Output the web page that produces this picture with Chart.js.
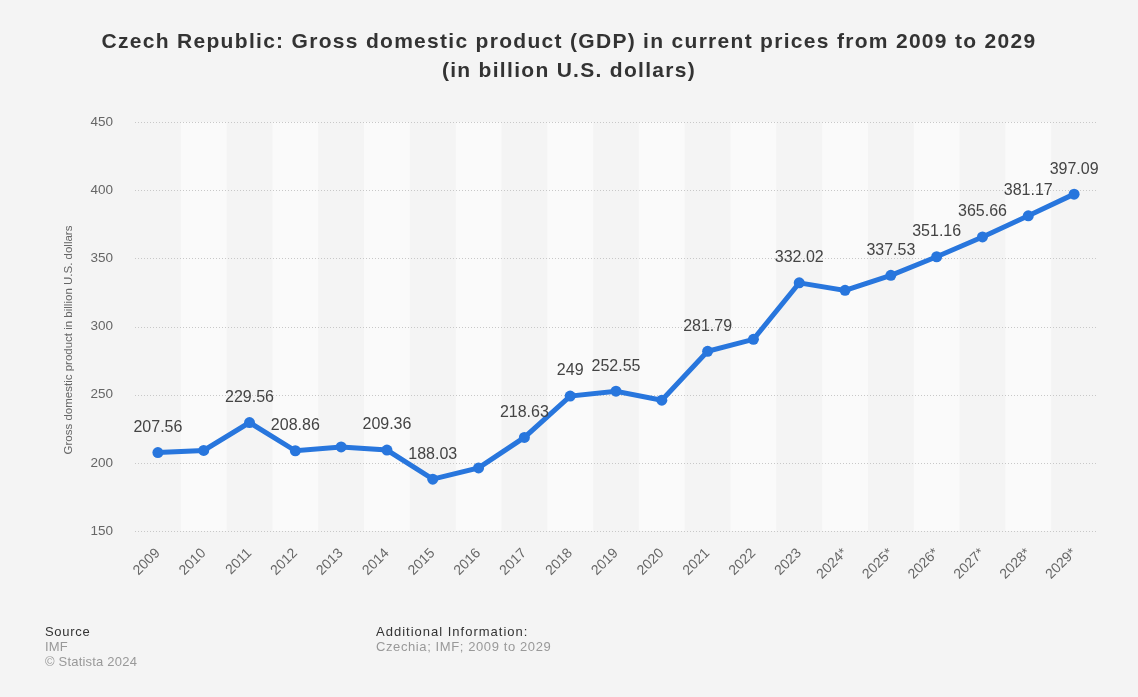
<!DOCTYPE html>
<html>
<head>
<meta charset="utf-8">
<script src="https://cdn.jsdelivr.net/npm/chart.js@4"></script>
<style>
    body { margin: 0; background: #f4f4f4; font-family: "Liberation Sans", Arial, sans-serif; }
    #wrap { position: relative; width: 1138px; height: 697px; overflow: hidden; }
    #gdpChart { position: absolute; left: 0; top: 0; }
    .title { position: absolute; left: 0; width: 1138px; text-align: center; font-weight: bold; font-size: 21px; letter-spacing: 1.3px; color: #333; }
    .foot { position: absolute; font-size: 13px; line-height: 15px; letter-spacing: 0.7px; }
    .foot b { font-weight: normal; color: #333; }
    .foot span { color: #999; }
</style>
</head>
<body>
<div id="wrap">
    <canvas id="gdpChart" width="1138" height="697"></canvas>
    <div class="title" style="top: 29px;">Czech Republic: Gross domestic product (GDP) in current prices from 2009 to 2029</div>
    <div class="title" style="top: 58px;">(in billion U.S. dollars)</div>
    <div class="foot" style="left: 45px; top: 624px;"><b>Source</b><br><span style="letter-spacing: 0.2px;">IMF</span><br><span style="letter-spacing: 0.2px;">© Statista 2024</span></div>
    <div class="foot" style="left: 376px; top: 624px;"><b style="letter-spacing: 1px;">Additional Information:</b><br><span style="letter-spacing: 0.6px;">Czechia; IMF; 2009 to 2029</span></div>
</div>
<script>
document.addEventListener('DOMContentLoaded', function() {
    const years = ['2009', '2010', '2011', '2012', '2013', '2014', '2015', '2016', '2017', '2018', '2019',
        '2020', '2021', '2022', '2023', '2024*', '2025*', '2026*', '2027*', '2028*', '2029*'];
    const gdp = [207.56, 209.07, 229.56, 208.86, 211.69, 209.36, 188.03, 196.29, 218.63, 249, 252.55,
        245.97, 281.79, 290.57, 332.02, 326.5, 337.53, 351.16, 365.66, 381.17, 397.09];
    // which points carry a value label in the original
    const labelled = [true, false, true, true, false, true, true, false, true, true, true,
        false, true, false, true, false, true, true, true, true, true];
    const yTicks = [150, 200, 250, 300, 350, 400, 450];
    const yTitle = 'Gross domestic product in billion U.S. dollars';

    const blue = '#2876dd';
    const fontFamily = '"Liberation Sans", Arial, sans-serif';

    // alternating column stripes behind the line
    const stripes = {
        id: 'stripes',
        beforeDatasetsDraw(chart) {
            const { ctx, chartArea, scales } = chart;
            const x = scales.x;
            const half = (x.getPixelForValue(1) - x.getPixelForValue(0)) / 2;
            ctx.save();
            ctx.fillStyle = '#fafafa';
            for (let i = 1; i < years.length; i += 2) {
                const c = x.getPixelForValue(i);
                ctx.fillRect(c - half, chartArea.top, half * 2, chartArea.bottom - chartArea.top);
            }
            // dotted grid over the stripes
            ctx.strokeStyle = '#c8c8c8';
            ctx.lineWidth = 1;
            ctx.setLineDash([1, 2]);
            yTicks.forEach(v => {
                const y = Math.round(scales.y.getPixelForValue(v)) + 0.5;
                ctx.beginPath();
                ctx.moveTo(chartArea.left, y);
                ctx.lineTo(chartArea.right, y);
                ctx.stroke();
            });
            ctx.setLineDash([]);

            // y axis title, sitting a little below the middle like the original
            ctx.font = '11.5px ' + fontFamily;
            ctx.fillStyle = '#666';
            ctx.textAlign = 'center';
            ctx.textBaseline = 'middle';
            ctx.translate(69, 340);
            ctx.rotate(-Math.PI / 2);
            ctx.fillText(yTitle, 0, 0);
            ctx.restore();
        }
    };

    const valueLabels = {
        id: 'valueLabels',
        afterDatasetsDraw(chart) {
            const { ctx } = chart;
            const meta = chart.getDatasetMeta(0);
            ctx.save();
            ctx.font = '16px ' + fontFamily;
            ctx.fillStyle = '#444';
            ctx.textAlign = 'center';
            ctx.textBaseline = 'middle';
            meta.data.forEach((pt, i) => {
                if (!labelled[i]) return;
                ctx.fillText(String(gdp[i]), pt.x, pt.y - 25);
            });
            ctx.restore();
        }
    };

    const ctx = document.getElementById('gdpChart').getContext('2d');
    new Chart(ctx, {
        type: 'line',
        data: {
            labels: years,
            datasets: [{
                data: gdp,
                borderColor: blue,
                backgroundColor: blue,
                borderWidth: 5,
                pointRadius: 5.5,
                pointHoverRadius: 5.5,
                pointBackgroundColor: blue,
                pointBorderWidth: 0,
                tension: 0
            }]
        },
        options: {
            responsive: false,
            animation: false,
            layout: { padding: { top: 122, right: 41, left: 0, bottom: 0 } },
            plugins: {
                legend: { display: false },
                tooltip: { enabled: false }
            },
            scales: {
                x: {
                    offset: true,
                    grid: { display: false },
                    border: { display: false },
                    ticks: {
                        color: '#666',
                        font: { family: fontFamily, size: 14 },
                        minRotation: 45,
                        maxRotation: 45,
                        padding: 6,
                        autoSkip: false
                    },
                    afterFit(scale) { scale.height = 166; }
                },
                y: {
                    min: 150,
                    max: 450,
                    afterBuildTicks(scale) { scale.ticks = yTicks.map(v => ({ value: v })); },
                    grid: { display: false },
                    border: { display: false },
                    ticks: {
                        color: '#666',
                        font: { family: fontFamily, size: 13.5 },
                        padding: 14
                    },
                    afterFit(scale) { scale.width = 135; }
                }
            }
        },
        plugins: [stripes, valueLabels]
    });
});
</script>
</body>
</html>
